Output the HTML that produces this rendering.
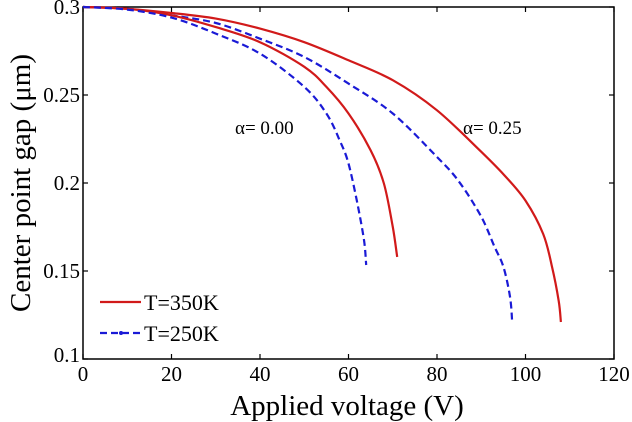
<!DOCTYPE html>
<html><head><meta charset="utf-8"><style>
body{margin:0;background:#fff}
svg{display:block;font-family:"Liberation Serif",serif}
</style></head><body>
<svg id="chart" width="632" height="422" viewBox="0 0 632 422" xmlns="http://www.w3.org/2000/svg">
<g id="plot"></g>
</svg>
<script>
const xTicks=[0,20,40,60,80,100,120];
const yTicks=[0.1,0.15,0.2,0.25,0.3];
const yTickLabels=["0.1","0.15","0.2","0.25","0.3"];
const redA25X=[0,10,20,30,40,50,60,70,80,90,95,100,104,106,107.5,108];
const redA25Y=[0.3,0.299,0.2966,0.2934,0.2877,0.280,0.2697,0.2584,0.2413,0.2177,0.205,0.19,0.171,0.1524,0.133,0.121];
const blueA25X=[0,10,20,30,40,50,60,70,80,85,90,93,95,96.5,97];
const blueA25Y=[0.3,0.299,0.2953,0.2909,0.282,0.2716,0.2565,0.2395,0.2148,0.2007,0.1808,0.1638,0.1524,0.1354,0.1206];
const redA0X=[0,10,20,30,40,50,55,60,65,68,70,71];
const redA0Y=[0.3,0.299,0.2953,0.2886,0.280,0.266,0.2546,0.2395,0.2186,0.1997,0.175,0.158];
const blueA0X=[0,10,20,30,40,50,55,58,60,62,63.5,64];
const blueA0Y=[0.3,0.2985,0.294,0.2849,0.2735,0.2546,0.2395,0.2243,0.2111,0.1884,0.1676,0.1534];

const L=83,R=614,T=7,B=359;
const sx=v=>L+(v-0)/(120-0)*(R-L);
const sy=v=>B-(v-0.1)/(0.3-0.1)*(B-T);
const NS="http://www.w3.org/2000/svg";
const g=document.getElementById('plot');
function mk(tag,attrs){const e=document.createElementNS(NS,tag);for(const k in attrs)e.setAttribute(k,attrs[k]);g.appendChild(e);return e;}

const frame=mk('rect',{x:L,y:T,width:R-L,height:B-T,fill:'none',stroke:'#000','stroke-width':1.5});



xTicks.forEach(t=>{
  const x=sx(t);
  const a=mk('line',{x1:x,x2:x,y1:B,y2:B-5,stroke:'#000','stroke-width':1.2});
  
  
  const b=mk('line',{x1:x,x2:x,y1:T,y2:T+5,stroke:'#000','stroke-width':1.2});
  
  
  const tx=mk('text',{x:x,y:B+22,'text-anchor':'middle','font-size':21,fill:'#000'});
  tx.textContent=String(t);
  
  
});
yTicks.forEach((t,i)=>{
  const y=sy(t);
  const a=mk('line',{x1:L,x2:L+5,y1:y,y2:y,stroke:'#000','stroke-width':1.2});
  
  
  const b=mk('line',{x1:R,x2:R-5,y1:y,y2:y,stroke:'#000','stroke-width':1.2});
  
  
  const tx=mk('text',{x:L-3,y:y+(i===0?3:i===4?7:7),'text-anchor':'end','font-size':21,fill:'#000'});
  tx.textContent=yTickLabels[i];
  
  
});

function series(xs,ys,color,dash,name){
  const P=xs.map((v,i)=>[sx(v),sy(ys[i])]);
  let d='M'+P[0][0].toFixed(1)+','+P[0][1].toFixed(1);
  for(let i=0;i<P.length-1;i++){
    const p0=P[Math.max(0,i-1)],p1=P[i],p2=P[i+1],p3=P[Math.min(P.length-1,i+2)];
    const c1=[p1[0]+(p2[0]-p0[0])/6,p1[1]+(p2[1]-p0[1])/6];
    const c2=[p2[0]-(p3[0]-p1[0])/6,p2[1]-(p3[1]-p1[1])/6];
    d+=' C'+c1.map(v=>v.toFixed(1)).join(',')+' '+c2.map(v=>v.toFixed(1)).join(',')+' '+p2.map(v=>v.toFixed(1)).join(',');
  }
  const p=mk('path',{d:d,fill:'none',stroke:color,'stroke-width':2.2,'stroke-linejoin':'round'});
  if(dash)p.setAttribute('stroke-dasharray',dash);
  
  
}
series(redA25X,redA25Y,'#d11a1a',null,'line-350k-alpha-025');
series(blueA25X,blueA25Y,'#1a1ad6','7,4','line-250k-alpha-025');
series(redA0X,redA0Y,'#d11a1a',null,'line-350k-alpha-000');
series(blueA0X,blueA0Y,'#1a1ad6','7,4','line-250k-alpha-000');

function text(x,y,s,size,name,extra){
  const t=mk('text',Object.assign({x:x,y:y,'font-size':size,fill:'#000'},extra||{}));
  t.textContent=s;
  
  
  return t;
}
text(235,134,'α= 0.00',19,'annotation-alpha-000');
text(463,134,'α= 0.25',19,'annotation-alpha-025');

const l1=mk('line',{x1:100,x2:141,y1:302,y2:302,stroke:'#d11a1a','stroke-width':2.2});


const l2=mk('line',{x1:100,x2:141,y1:333,y2:333,stroke:'#1a1ad6','stroke-width':2.2,'stroke-dasharray':'7,4'});


const dot=mk('circle',{cx:121,cy:333,r:2,fill:'#1a1ad6'});


text(144,310,'T=350K',22,'legend-entry-350k');
text(144,341,'T=250K',22,'legend-entry-250k');

text(347,415,'Applied voltage (V)',29,'x-axis-title',{'text-anchor':'middle'});
text(0,0,'Center point gap (μm)',29,'y-axis-title',{'text-anchor':'middle',transform:'translate(30,183) rotate(-90)'});
</script>
</body></html>
